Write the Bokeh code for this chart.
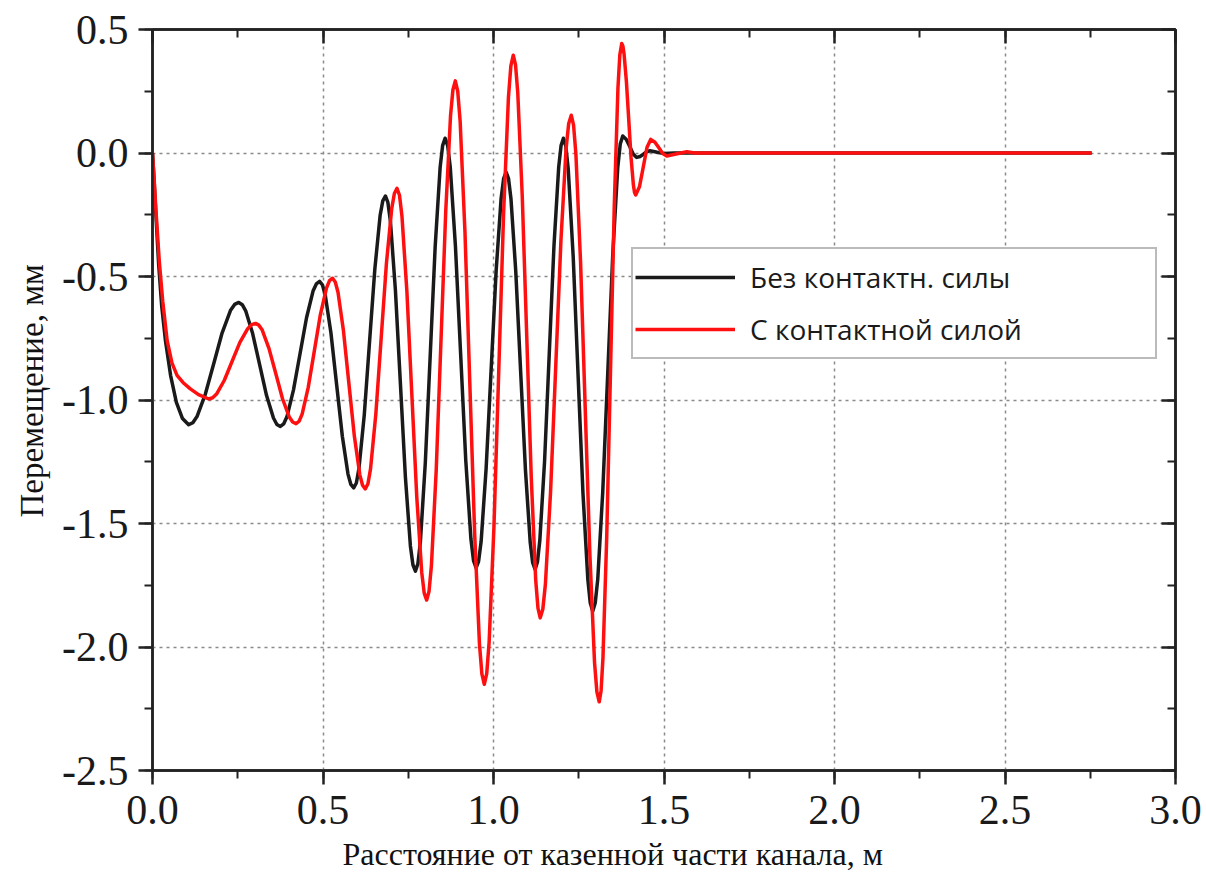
from bokeh.plotting import figure
from bokeh.models import (Range1d, LinearAxis, SingleIntervalTicker, NumeralTickFormatter,
                          Legend, LegendItem, Title)
from bokeh.embed import file_html
from bokeh.resources import INLINE

# ---- data ----
black_x = [0.0, 0.005, 0.01, 0.018, 0.027, 0.038, 0.053, 0.07, 0.088, 0.106,
           0.1183, 0.1305, 0.155, 0.1795, 0.204, 0.2285, 0.2408, 0.253,
           0.2632, 0.2733, 0.2937, 0.314, 0.3343, 0.3547, 0.3648, 0.375,
           0.3846, 0.3942, 0.4133, 0.4325, 0.4517, 0.4708, 0.4804, 0.490,
           0.4983, 0.5067, 0.5233, 0.540, 0.5567, 0.5733, 0.5817, 0.590,
           0.5978, 0.6055, 0.621, 0.6365, 0.652, 0.6675, 0.6753, 0.683,
           0.6903, 0.6977, 0.7123, 0.727, 0.7417, 0.7563, 0.7637, 0.771,
           0.7783, 0.7855, 0.800, 0.8145, 0.829, 0.8435, 0.8508, 0.858,
           0.8656, 0.8732, 0.8883, 0.9035, 0.9187, 0.9338, 0.9414, 0.949,
           0.9563, 0.9637, 0.9783, 0.993, 1.0077, 1.0223, 1.0297, 1.037,
           1.0441, 1.0512, 1.0653, 1.0795, 1.0937, 1.1078, 1.1149, 1.122,
           1.1289, 1.1358, 1.1497, 1.1635, 1.1773, 1.1912, 1.1981, 1.205,
           1.2122, 1.2193, 1.2337, 1.248, 1.2623, 1.2767, 1.2838, 1.291,
           1.2983, 1.3057, 1.3203, 1.335, 1.3497, 1.3643, 1.3717, 1.379,
           1.389, 1.3995, 1.41, 1.42,
           1.4298, 1.4395, 1.4493, 1.459,
           1.48, 1.50, 1.53, 2.754]
black_y = [0.0, -0.12, -0.25, -0.45, -0.62, -0.76, -0.90, -1.01, -1.075, -1.10,
           -1.092, -1.067, -0.976, -0.853, -0.729, -0.638, -0.613, -0.605,
           -0.614, -0.639, -0.731, -0.856, -0.981, -1.073, -1.099, -1.107,
           -1.097, -1.068, -0.960, -0.814, -0.667, -0.559, -0.530, -0.52,
           -0.534, -0.576, -0.729, -0.938, -1.147, -1.300, -1.342, -1.356,
           -1.336, -1.277, -1.061, -0.765, -0.470, -0.253, -0.194, -0.174,
           -0.200, -0.276, -0.554, -0.934, -1.313, -1.591, -1.667, -1.693,
           -1.663, -1.576, -1.255, -0.817, -0.378, -0.058, 0.030, 0.06,
           0.030, -0.057, -0.375, -0.81, -1.245, -1.563, -1.650, -1.68,
           -1.653, -1.573, -1.279, -0.879, -0.478, -0.184, -0.104, -0.077,
           -0.104, -0.185, -0.479, -0.882, -1.284, -1.578, -1.659, -1.686,
           -1.656, -1.569, -1.250, -0.813, -0.377, -0.057, 0.030, 0.06,
           0.027, -0.068, -0.419, -0.898, -1.376, -1.727, -1.822, -1.855,
           -1.822, -1.726, -1.374, -0.893, -0.412, -0.060, 0.036, 0.069,
           0.056, 0.026, -0.005, -0.018,
           -0.014, -0.005, 0.005, 0.009,
           0.003, -0.002, 0.0, 0.0]

red_x = [0.0, 0.005, 0.01, 0.02, 0.03, 0.043, 0.057, 0.072, 0.09, 0.111, 0.135, 0.165,
         0.1764, 0.1878, 0.2107, 0.2335, 0.2563, 0.2792, 0.2906, 0.302,
         0.3119, 0.3218, 0.3417, 0.3615, 0.3813, 0.4012, 0.4111, 0.421,
         0.4299, 0.4388, 0.4567, 0.4745, 0.4923, 0.5102, 0.5191, 0.528,
         0.536, 0.544, 0.560, 0.576, 0.592, 0.608, 0.616, 0.624,
         0.6318, 0.6395, 0.655, 0.6705, 0.686, 0.7015, 0.7093, 0.717,
         0.7243, 0.7315, 0.746, 0.7605, 0.775, 0.7895, 0.7968, 0.804,
         0.811, 0.818, 0.832, 0.846, 0.860, 0.874, 0.881, 0.888,
         0.8951, 0.9022, 0.9163, 0.9305, 0.9447, 0.9588, 0.9659, 0.973,
         0.9801, 0.9872, 1.0013, 1.0155, 1.0297, 1.0438, 1.0509, 1.058,
         1.0646, 1.0712, 1.0843, 1.0975, 1.1107, 1.1238, 1.1304, 1.137,
         1.1446, 1.1522, 1.1673, 1.1825, 1.1977, 1.2128, 1.2204, 1.228,
         1.2348, 1.2417, 1.2553, 1.269, 1.2827, 1.2963, 1.3032, 1.310,
         1.3155, 1.321, 1.332, 1.343, 1.354, 1.365, 1.3705, 1.376,
         1.3794, 1.3828, 1.3897, 1.3965, 1.4033, 1.4102, 1.4136, 1.417,
         1.428, 1.439, 1.450, 1.461,
         1.4728, 1.4845, 1.4963, 1.508,
         1.535, 1.567, 1.59, 2.754]
red_y = [0.0, -0.11, -0.23, -0.44, -0.60, -0.76, -0.85, -0.90, -0.93, -0.955, -0.978, -0.996,
         -0.991, -0.976, -0.920, -0.843, -0.767, -0.711, -0.695, -0.69,
         -0.697, -0.717, -0.792, -0.893, -0.995, -1.069, -1.089, -1.096,
         -1.086, -1.057, -0.949, -0.802, -0.654, -0.547, -0.517, -0.507,
         -0.522, -0.564, -0.720, -0.934, -1.147, -1.303, -1.345, -1.36,
         -1.339, -1.278, -1.056, -0.752, -0.447, -0.225, -0.164, -0.143,
         -0.171, -0.255, -0.560, -0.977, -1.393, -1.698, -1.782, -1.81,
         -1.774, -1.669, -1.285, -0.759, -0.234, 0.151, 0.256, 0.292,
         0.250, 0.128, -0.319, -0.930, -1.540, -1.987, -2.109, -2.151,
         -2.108, -1.980, -1.514, -0.878, -0.241, 0.225, 0.353, 0.396,
         0.357, 0.243, -0.174, -0.743, -1.313, -1.729, -1.843, -1.882,
         -1.847, -1.746, -1.373, -0.865, -0.356, 0.017, 0.118, 0.153,
         0.113, -0.006, -0.441, -1.035, -1.628, -2.063, -2.182, -2.222,
         -2.177, -2.044, -1.556, -0.890, -0.223, 0.265, 0.398, 0.443,
         0.433, 0.402, 0.290, 0.137, -0.017, -0.129, -0.160, -0.17,
         -0.137, -0.058, 0.022, 0.055,
         0.045, 0.022, -0.002, -0.012,
         -0.004, 0.005, 0.0, 0.0]

series_names = ["Без контактн. силы", "С контактной силой"]
x_title = "Расстояние от казенной части канала, м"
y_title = "Перемещение, мм"
x_limits = [0.0, 3.0]
y_limits = [-2.5, 0.5]
tick_step = 0.5

# ---- figure ----
p = figure(width=1206, height=879, output_backend="svg", toolbar_location=None,
           x_range=Range1d(*x_limits), y_range=Range1d(*y_limits),
           x_axis_location=None, y_axis_location=None,
           min_border_left=152, min_border_right=31, min_border_top=29, min_border_bottom=109)
p.background_fill_color = "white"
p.border_fill_color = "white"
p.outline_line_color = "#222222"
p.outline_line_width = 2.5

AX = "#222222"
SERIF = "Liberation Serif"


def make_ticker():
    return SingleIntervalTicker(interval=tick_step, num_minor_ticks=2)


def style_axis(ax, outward, show_labels):
    ax.ticker = make_ticker()
    ax.formatter = NumeralTickFormatter(format="0.0")
    ax.axis_line_color = AX
    ax.axis_line_width = 2.5
    ax.major_tick_line_color = AX
    ax.major_tick_line_width = 2.5
    ax.minor_tick_line_color = AX
    ax.minor_tick_line_width = 2
    if outward:
        ax.major_tick_out, ax.major_tick_in = 14, 0
        ax.minor_tick_out, ax.minor_tick_in = 8, 0
    else:
        ax.major_tick_out, ax.major_tick_in = 0, 14
        ax.minor_tick_out, ax.minor_tick_in = 0, 8
    if show_labels:
        ax.major_label_text_font = SERIF
        ax.major_label_text_font_size = "42px"
        ax.major_label_text_color = "#1a1a1a"
    else:
        ax.major_label_text_font_size = "0px"
        ax.major_label_standoff = 0


bottom = LinearAxis()
style_axis(bottom, True, True)
bottom.major_label_standoff = 11
p.add_layout(bottom, "below")

left = LinearAxis()
style_axis(left, True, True)
left.major_label_standoff = 10
p.add_layout(left, "left")

top = LinearAxis()
style_axis(top, False, False)
p.add_layout(top, "above")

right = LinearAxis()
style_axis(right, False, False)
p.add_layout(right, "right")

p.xgrid.ticker = make_ticker()
p.ygrid.ticker = make_ticker()
for g in (p.xgrid, p.ygrid):
    g.grid_line_color = "#8a8a8a"
    g.grid_line_width = 1.5
    g.grid_line_dash = "3 4"

r_black = p.line(black_x, black_y, line_color="#1a1a1a", line_width=3.5, line_join="round")
r_red = p.line(red_x, red_y, line_color="#ff1010", line_width=3.5, line_join="round")

# axis titles, placed like in the reference
x_title_obj = Title(text=x_title, align="left", offset=190, standoff=14,
                    text_font=SERIF, text_font_size="32px", text_font_style="normal",
                    text_color="#111111")
p.add_layout(x_title_obj, "below")
y_title_obj = Title(text=y_title, align="left", offset=253, standoff=20,
                    text_font=SERIF, text_font_size="33px", text_font_style="normal",
                    text_color="#111111")
p.add_layout(y_title_obj, "left")

legend = Legend(items=[LegendItem(label=series_names[0], renderers=[r_black]),
                       LegendItem(label=series_names[1], renderers=[r_red])],
                location=(479, 411))
legend.label_text_font = "Open Sans"
legend.label_text_font_size = "28px"
legend.label_text_color = "#1a1a1a"
legend.glyph_width = 100
legend.glyph_height = 52
legend.label_height = 52
legend.label_width = 403
legend.label_standoff = 15
legend.spacing = 0
legend.padding = 2
legend.margin = 0
legend.border_line_color = "#777777"
legend.border_line_width = 2
legend.background_fill_color = "white"
legend.background_fill_alpha = 1.0
p.add_layout(legend, "center")

open("out.html", "w").write(file_html(p, INLINE))
